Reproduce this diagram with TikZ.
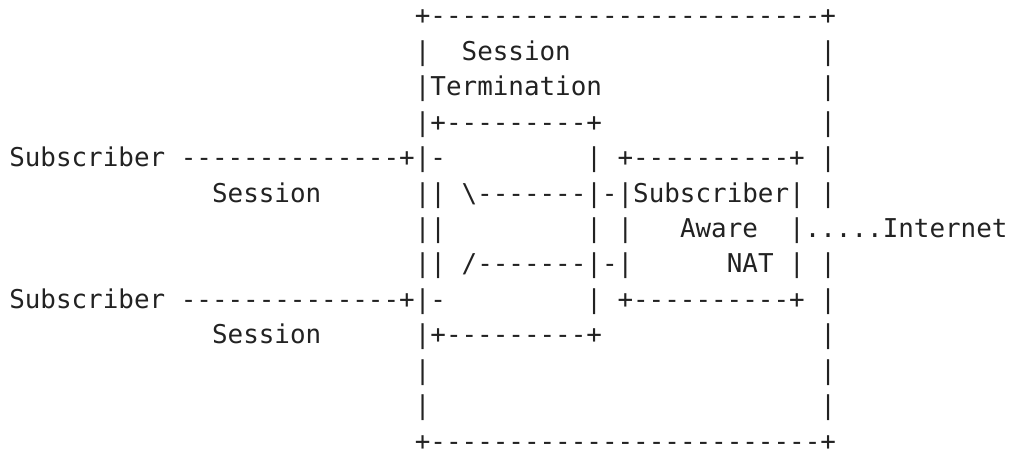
\documentclass[tikz,border=0pt]{standalone}
\usepackage{fontspec}
\setmonofont{DejaVu Sans Mono}
\newlength{\colw}
\newcommand{\rowfont}{\fontsize{19.43pt}{26.8pt}\selectfont\ttfamily}
\newcommand{\skipcols}[1]{\hspace*{#1\colw}}
\AtBeginDocument{\settowidth{\colw}{\rowfont M}}
\definecolor{inkgray}{HTML}{222222}

\begin{document}
\begin{tikzpicture}[x=0.75pt,y=-0.75pt,
  asciirow/.style={anchor=base west,inner sep=0pt,font=\rowfont,text=inkgray}]

\useasboundingbox (0,0) rectangle (1009,453);

\node[asciirow] (top) at (414.6,25) {+-------------------------+};
\node[asciirow] (sesslabel) at (414.6,60.4) {|\skipcols{2}Session\skipcols{16}|};
\node[asciirow] (termlabel) at (414.6,95.8) {|Termination\skipcols{14}|};
\node[asciirow] (termtop) at (414.6,131.3) {|+---------+\skipcols{14}|};
\node[asciirow] (subone) at (9,166.7) {Subscriber --------------+|-\skipcols{9}|\skipcols{1}+----------+\skipcols{1}|};
\node[asciirow] (sessone) at (211.8,202.1) {Session\skipcols{6}||\skipcols{1}\textbackslash-------|-|Subscriber|\skipcols{1}|};
\node[asciirow] (aware) at (414.6,237.5) {||\skipcols{9}|\skipcols{1}|\skipcols{3}Aware\skipcols{2}|.....Internet};
\node[asciirow] (nat) at (414.6,272.9) {||\skipcols{1}/-------|-|\skipcols{6}NAT\skipcols{1}|\skipcols{1}|};
\node[asciirow] (subtwo) at (9,308.3) {Subscriber --------------+|-\skipcols{9}|\skipcols{1}+----------+\skipcols{1}|};
\node[asciirow] (sesstwo) at (211.8,343.8) {Session\skipcols{6}|+---------+\skipcols{14}|};
\node[asciirow] (sideone) at (414.6,379.2) {|\skipcols{25}|};
\node[asciirow] (sidetwo) at (414.6,414.6) {|\skipcols{25}|};
\node[asciirow] (bottom) at (414.6,450) {+-------------------------+};
\end{tikzpicture}
\end{document}
